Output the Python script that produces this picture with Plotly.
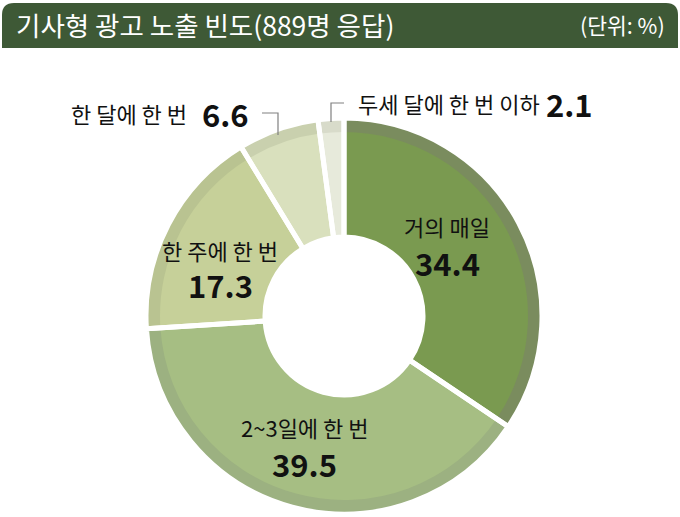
import plotly.graph_objects as go

# data (unit: %)
labels = ["거의 매일", "2~3일에 한 번", "한 주에 한 번", "한 달에 한 번", "두세 달에 한 번 이하"]
values = [34.4, 39.5, 17.3, 6.6, 2.1]
main_colors = ["#7a9a50", "#a6be83", "#c6d099", "#d9e0bd", "#e7eadb"]
rim_colors = ["#7a8c5e", "#9cb181", "#b9c391", "#c9d0ae", "#d8dbca"]

W, H = 680, 517
CX, CY = 344, 316          # donut centre, px
R_OUT, R_IN, R_HOLE = 198, 184, 79

def px(x):
    return x / W

def py(y):
    return 1 - y / H

def dom(r):
    return dict(x=[px(CX - r), px(CX + r)], y=[py(CY + r), py(CY - r)])

FONT = "Noto Sans CJK KR"

fig = go.Figure()
common = dict(labels=labels, values=values, sort=False, direction="clockwise",
              rotation=0, textinfo="none", hoverinfo="label+value", showlegend=False)

# darker outer rim
fig.add_trace(go.Pie(**common, domain=dom(R_OUT), hole=R_HOLE / R_OUT,
                     marker=dict(colors=rim_colors, line=dict(width=0))))
# main face
fig.add_trace(go.Pie(**common, domain=dom(R_IN), hole=R_HOLE / R_IN,
                     marker=dict(colors=main_colors, line=dict(width=0))))
# white separators
fig.add_trace(go.Pie(**common, domain=dom(R_OUT), hole=R_HOLE / R_OUT,
                     marker=dict(colors=["rgba(0,0,0,0)"] * len(values),
                                 line=dict(color="white", width=5))))

ann = []

def txt(x, y, s, size, bold=False, anchor="center"):
    ann.append(dict(x=px(x), y=py(y), xref="paper", yref="paper", text=f"<b>{s}</b>" if bold else s,
                    showarrow=False, xanchor=anchor, yanchor="middle",
                    font=dict(family=FONT, size=size, color="#111111")))

# labels inside slices
inside = [(0, 447, 226, 262), (1, 304, 427, 463), (2, 220, 250, 284)]
for i, x, y1, y2 in inside:
    txt(x, y1, labels[i], 22)
    txt(x, y2, f"{values[i]}", 31, bold=True)

# outside labels
txt(189, 113, labels[3], 22, anchor="right")
txt(200, 113, f"{values[3]}", 31, bold=True, anchor="left")
txt(356, 103, labels[4], 22, anchor="left")
txt(544, 103, f"{values[4]}", 31, bold=True, anchor="left")

# title bar texts
ann.append(dict(x=px(14), y=py(25), xref="paper", yref="paper", text="기사형 광고 노출 빈도(889명 응답)",
                showarrow=False, xanchor="left", yanchor="middle",
                font=dict(family=FONT, size=26.5, color="white")))
ann.append(dict(x=px(667), y=py(25), xref="paper", yref="paper", text="(단위: %)",
                showarrow=False, xanchor="right", yanchor="middle",
                font=dict(family=FONT, size=21.5, color="white")))

bar = (f"M {px(2)},{py(48)} L {px(2)},{py(15)} Q {px(2)},{py(3)} {px(14)},{py(3)} "
       f"L {px(666)},{py(3)} Q {px(678)},{py(3)} {px(678)},{py(15)} L {px(678)},{py(48)} Z")

shapes = [
    dict(type="path", path=bar, xref="paper", yref="paper", fillcolor="#3e5936", line=dict(width=0), layer="below"),
    # leader lines
    dict(type="path", xref="paper", yref="paper", line=dict(color="#808080", width=1.2),
         path=f"M {px(262)},{py(113)} L {px(278)},{py(113)} L {px(278)},{py(135)}"),
    dict(type="path", xref="paper", yref="paper", line=dict(color="#808080", width=1.2),
         path=f"M {px(344)},{py(103)} L {px(331)},{py(103)} L {px(331)},{py(122)}"),
]

fig.update_layout(width=W, height=H, margin=dict(l=0, r=0, t=0, b=0),
                  paper_bgcolor="white", plot_bgcolor="white",
                  annotations=ann, shapes=shapes)

fig.write_html("out.html", config={"displayModeBar": False},
               post_script="document.body.style.margin='0';")
